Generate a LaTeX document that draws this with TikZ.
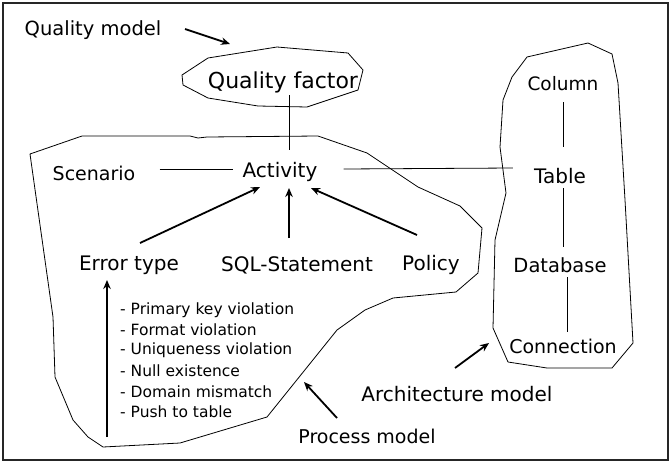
\documentclass[tikz,border=0pt]{standalone}
\usepackage{fontspec}
\setmainfont{DejaVu Sans}
\usetikzlibrary{calc,arrows.meta}
\begin{document}
\begin{tikzpicture}[x=1pt,y=-1pt,
  lbl/.style={inner sep=0pt,font=\fontsize{#1}{24}\selectfont},
  lbl/.default=20,
  item/.style={inner sep=0pt,anchor=west,font=\fontsize{15.5}{18}\selectfont},
  blob/.style={draw,line width=0.8pt,line join=round},
  link/.style={line width=0.8pt},
  arr/.style={line width=1.8pt,-{Stealth[length=9pt,width=7.5pt]}}]
\useasboundingbox (0,0) rectangle (671,463);
\draw[line width=1.2pt,black!85] (3,3) rectangle (668,460);
% regions
\draw[blob] (182,75) -- (208,58) -- (277,47) -- (348,53) -- (363,70) -- (358,90)
  -- (307,107) -- (258,106) -- (208,98) -- (183,85) -- cycle;
\draw[blob] (30,154) -- (82,136) -- (190,136) -- (198,138) -- (207,137) -- (318,136)
  -- (367,153) -- (418,187) -- (460,206) -- (482,228) -- (478,273) -- (456,292)
  -- (393,298) -- (365,310) -- (337,330) -- (267,417) -- (180,443) -- (103,447)
  -- (88,437) -- (73,420) -- (55,377) -- (53,317) -- cycle;
\draw[blob] (512,77) -- (527,57) -- (588,43) -- (612,54) -- (618,83) -- (625,200)
  -- (633,343) -- (612,368) -- (547,368) -- (508,362) -- (493,328) -- (495,240)
  -- (506,193) -- (500,147) -- (503,100) -- cycle;
% labels
\node[lbl=19.5] (qm) at (93,30) {Quality model};
\node[lbl=22] (qf) at (283,82) {Quality factor};
\node[lbl=19] (scen) at (94,173) {Scenario};
\node[lbl] (act) at (280,172) {Activity};
\node[lbl=18.5] (col) at (563,84) {Column};
\node[lbl] (tab) at (560,176) {Table};
\node[lbl=19.5] (db) at (560,265) {Database};
\node[lbl=19] (con) at (563,346) {Connection};
\node[lbl] (err) at (129,265) {Error type};
\node[lbl] (sql) at (297,265) {SQL-Statement};
\node[lbl] (pol) at (431,265) {Policy};
\node[lbl=19] (pm) at (367,436) {Process model};
\node[lbl] (am) at (457,394) {Architecture model};
\node[item] (i1) at (120,310) {- Primary key violation};
\node[item] (i2) at (120,330) {- Format violation};
\node[item] (i3) at (120,350) {- Uniqueness violation};
\node[item] (i4) at (120,371) {- Null existence};
\node[item] (i5) at (120,392) {- Domain mismatch};
\node[item] (i6) at (120,412) {- Push to table};
% pointer ends
\coordinate (qmt) at (230,44);
\coordinate (pmt) at (304,382);
\coordinate (amt) at (489,343);
\coordinate (vt) at (107,437);
\coordinate (vx) at (289,0);
\coordinate (cx) at (563,0);
\coordinate (dx) at (567,0);
% connectors
\draw[link] ($(qf.center -| vx)+(0,13)$) -- ($(act.center -| vx)+(0,-22)$);
\draw[link] ($(scen.east)+(24,-4)$) -- ($(act.west)+(-9,-3)$);
\draw[link] ($(act.east)+(26,-3)$) -- ($(tab.west)+(-21,-8)$);
\draw[link] ($(col.center -| cx)+(0,18)$) -- ($(tab.center -| cx)+(0,-29)$);
\draw[link] ($(tab.center -| cx)+(0,12)$) -- ($(db.center -| cx)+(0,-18)$);
\draw[link] ($(db.center -| dx)+(0,12)$) -- ($(con.center -| dx)+(0,-14)$);
% arrows
\draw[arr] ($(qm.center)+(92,-1)$) -- (qmt);
\draw[arr] ($(err.center)+(11,-22)$) -- ($(act.center)+(-20,15)$);
\draw[arr] ($(sql.center -| vx)+(0,-27)$) -- ($(act.center -| vx)+(0,16)$);
\draw[arr] ($(pol.center)+(-14,-30)$) -- ($(act.center)+(31,16)$);
\draw[arr] (vt) -- ($(err.center -| vt)+(0,15)$);
\draw[arr] ($(pm.center)+(-30,-18)$) -- (pmt);
\draw[arr] ($(am.center)+(-2,-26)$) -- (amt);
\end{tikzpicture}
\end{document}
